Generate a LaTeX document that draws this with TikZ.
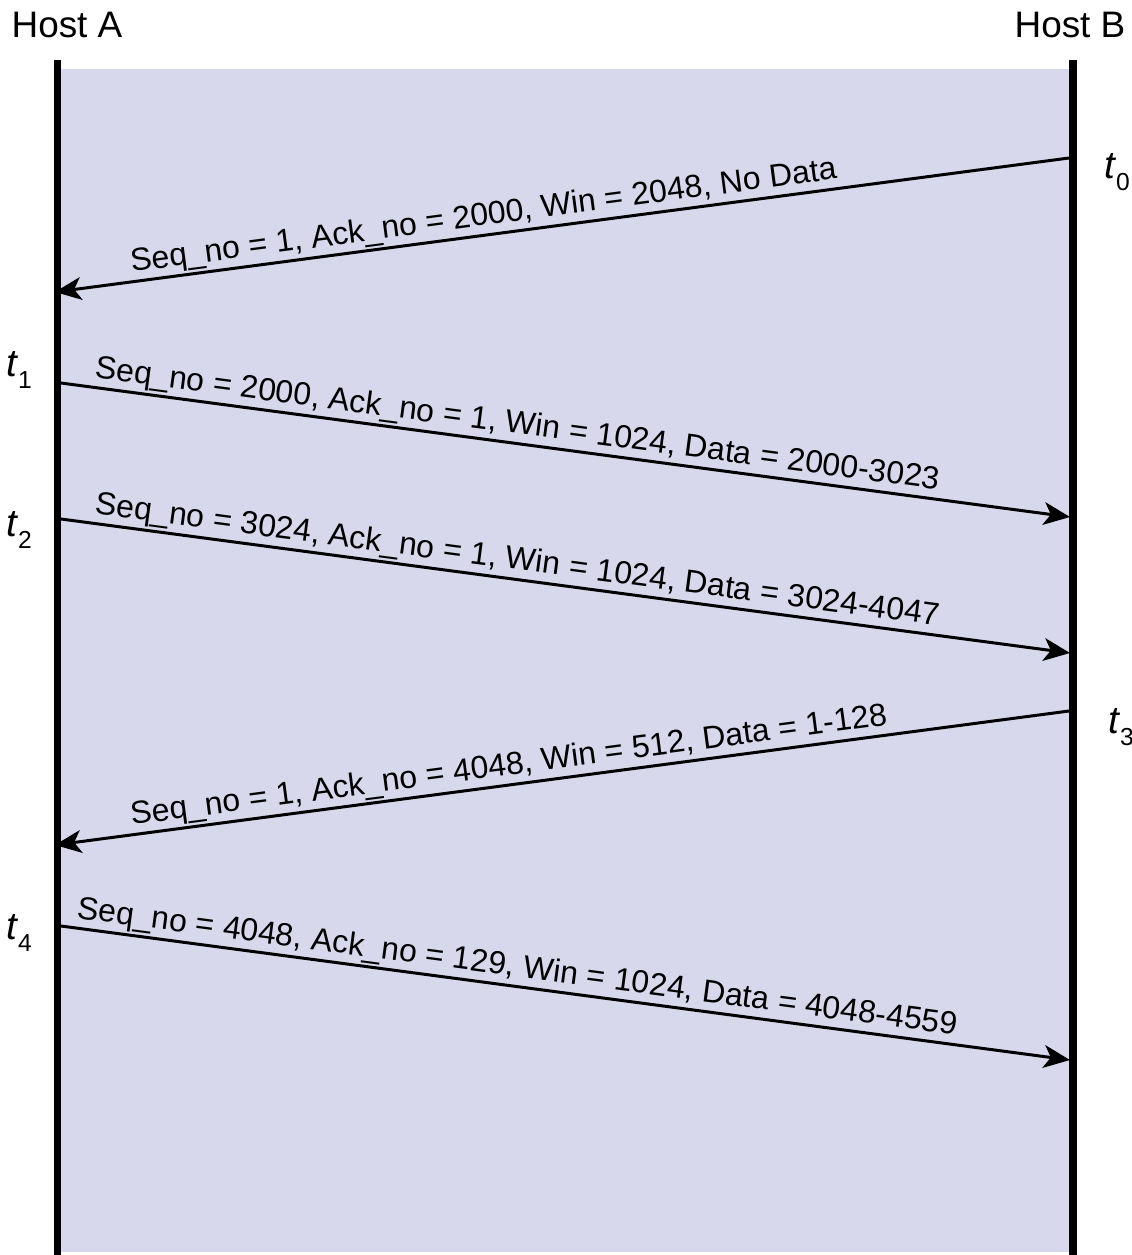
\documentclass[tikz,border=0pt]{standalone}
\usepackage{fontspec}
\setmainfont{Liberation Sans}
\usepackage{xcolor}
\usetikzlibrary{arrows.meta}
\definecolor{lanebg}{RGB}{216,216,236}
\newcommand{\tmark}[1]{\textit{t}\raisebox{-0.3em}{\fontsize{14}{14}\selectfont #1}}

\begin{document}
\begin{tikzpicture}[
    x=0.02cm, y=-0.02cm,
    host/.style={font=\fontsize{21}{25}\selectfont, inner sep=0pt},
    lifeline/.style={line width=4pt},
    msg/.style={->, >={Stealth[length=15pt, width=13pt, inset=4pt]}, line width=1.7pt},
    msglabel/.style={sloped, above=0pt, inner sep=1pt, font=\fontsize{18.2}{22}\selectfont},
    tlabel/.style={font=\fontsize{22}{26}\selectfont, inner sep=0pt}
]
\useasboundingbox (0,0) rectangle (1132,1255);

% Background between the hosts
\fill[lanebg] (61,69) rectangle (1070,1252);

% Hosts
\node[host] (hosta) at (67,25) {Host A};
\node[host] (hostb) at (1070,25) {Host B};

% Lifelines
\coordinate (atop) at (57.5,60);
\coordinate (abot) at (57.5,1255);
\coordinate (btop) at (1073,60);
\coordinate (bbot) at (1073,1255);
\draw[lifeline] (atop) -- (abot);
\draw[lifeline] (btop) -- (bbot);

% Send and receive points
\coordinate (b0) at (1069,158);
\coordinate (a0) at (55,292);
\coordinate (a1) at (61,383);
\coordinate (b1) at (1070,517);
\coordinate (a2) at (61,519);
\coordinate (b2) at (1070,653);
\coordinate (b3) at (1069,711);
\coordinate (a3) at (55,845);
\coordinate (a4) at (61,926);
\coordinate (b4) at (1070,1060);

% Segments
\draw[msg] (b0) -- node[msglabel, pos=0.575] {Seq\_no = 1, Ack\_no = 2000, Win = 2048, No Data} (a0);
\draw[msg] (a1) -- node[msglabel, pos=0.45] {Seq\_no = 2000, Ack\_no = 1, Win = 1024, Data = 2000-3023} (b1);
\draw[msg] (a2) -- node[msglabel, pos=0.45] {Seq\_no = 3024, Ack\_no = 1, Win = 1024, Data = 3024-4047} (b2);
\draw[msg] (b3) -- node[msglabel, pos=0.55] {Seq\_no = 1, Ack\_no = 4048, Win = 512, Data = 1-128} (a3);
\draw[msg] (a4) -- node[msglabel, pos=0.45] {Seq\_no = 4048, Ack\_no = 129, Win = 1024, Data = 4048-4559} (b4);

% Times
\node[tlabel] (t0) at (1117,172) {\tmark{0}};
\node[tlabel] (t1) at (19,370) {\tmark{1}};
\node[tlabel] (t2) at (19,530) {\tmark{2}};
\node[tlabel] (t3) at (1121,727) {\tmark{3}};
\node[tlabel] (t4) at (19,933) {\tmark{4}};
\end{tikzpicture}
\end{document}
